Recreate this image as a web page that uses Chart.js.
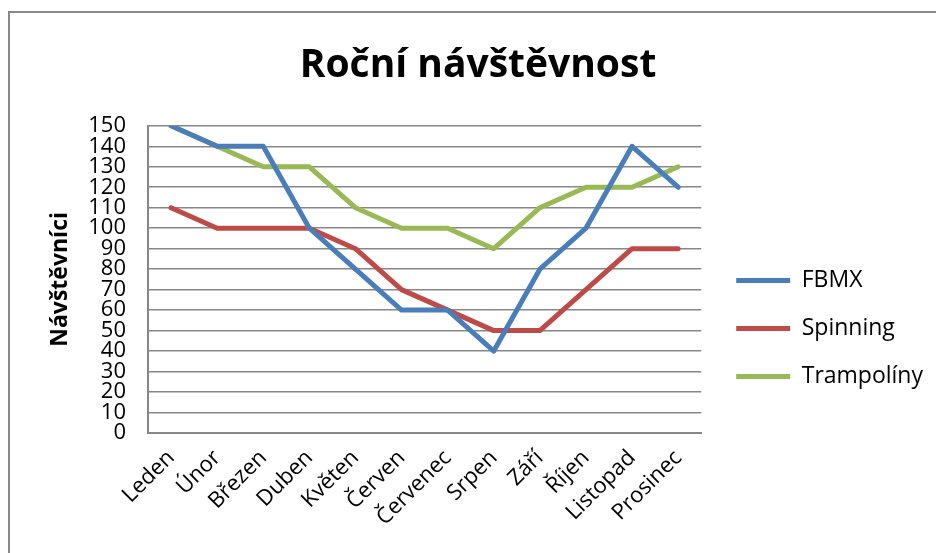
<!DOCTYPE html>
<html>
<head>
<meta charset="utf-8">
<script src="https://cdn.jsdelivr.net/npm/chart.js@4"></script>
<style>
    html, body { margin: 0; padding: 0; background: #fff; }
    #wrap { position: relative; width: 936px; height: 553px; overflow: hidden; }
    #frame {
        position: absolute; left: 8px; top: 11px; width: 1000px; height: 600px;
        border-left: 2px solid #888; border-top: 2px solid #888;
    }
    #chart { position: absolute; left: 0; top: 0; }
</style>
</head>
<body>
<div id="wrap">
    <div id="frame"></div>
    <canvas id="chart" width="936" height="553"></canvas>
</div>
<script>
const months = ['Leden', 'Únor', 'Březen', 'Duben', 'Květen', 'Červen', 'Červenec', 'Srpen', 'Září', 'Říjen', 'Listopad', 'Prosinec']
const fbmx = [150, 140, 140, 100, 80, 60, 60, 40, 80, 100, 140, 120]
const spinning = [110, 100, 100, 100, 90, 70, 60, 50, 50, 70, 90, 90]
const trampoliny = [150, 140, 130, 130, 110, 100, 100, 90, 110, 120, 120, 130]

const fontName = '"Open Sans", "Liberation Sans", sans-serif'
const gridGray = '#878787'

function line(label, data, color) {
    return {
        label: label,
        data: data,
        borderColor: color,
        backgroundColor: color,
        borderWidth: 5,
        pointRadius: 0,
        pointHoverRadius: 0,
        tension: 0,
        borderCapStyle: 'round',
        borderJoinStyle: 'round'
    }
}

// move the legend a bit to the right, away from the plot
const nudgeLegend = {
    id: 'nudgeLegend',
    afterLayout(chart) {
        chart.legend.left += 10
        chart.legend.right += 10
    }
}

const ctx = document.getElementById('chart')

new Chart(ctx, {
    type: 'line',
    data: {
        labels: months,
        datasets: [
            line('FBMX', fbmx, '#4A7EBB'),
            line('Spinning', spinning, '#BE4B48'),
            line('Trampolíny', trampoliny, '#98B954')
        ]
    },
    plugins: [nudgeLegend],
    options: {
        responsive: false,
        animation: false,
        layout: { padding: { left: 33, right: 13, top: 0, bottom: 0 } },
        plugins: {
            tooltip: { enabled: false },
            title: {
                display: true,
                text: 'Roční návštěvnost',
                color: '#000',
                font: { family: fontName, size: 39, weight: 'bold', lineHeight: 1.2 },
                padding: { top: 42, bottom: 37 }
            },
            legend: {
                position: 'right',
                // empty title only pushes the legend items down
                title: {
                    display: true,
                    text: ' ',
                    font: { size: 10, lineHeight: 1.2 },
                    padding: 46
                },
                labels: {
                    usePointStyle: true,
                    pointStyle: 'line',
                    pointStyleWidth: 54,
                    color: '#000',
                    font: { family: fontName, size: 23, lineHeight: 1.2 },
                    padding: 25
                }
            }
        },
        scales: {
            x: {
                offset: true,
                grid: { display: false },
                border: { display: true, color: gridGray, width: 2 },
                ticks: {
                    color: '#000',
                    font: { family: fontName, size: 22 },
                    minRotation: 45,
                    maxRotation: 45,
                    autoSkip: false,
                    padding: 4
                },
                afterFit: scale => { scale.height = 120 }
            },
            y: {
                min: 0,
                max: 150,
                grid: { color: gridGray, lineWidth: 1.5, drawTicks: false },
                border: { display: true, color: gridGray, width: 2 },
                ticks: {
                    stepSize: 10,
                    autoSkip: false,
                    color: '#000',
                    font: { family: fontName, size: 22, lineHeight: 1 },
                    padding: 22
                },
                title: {
                    display: true,
                    text: 'Návštěvníci',
                    color: '#000',
                    font: { family: fontName, size: 23, weight: 'bold', lineHeight: 1.2 },
                    padding: { top: 14, bottom: 0 }
                },
                afterFit: scale => { scale.width = 115 }
            }
        }
    }
})
</script>
</body>
</html>
